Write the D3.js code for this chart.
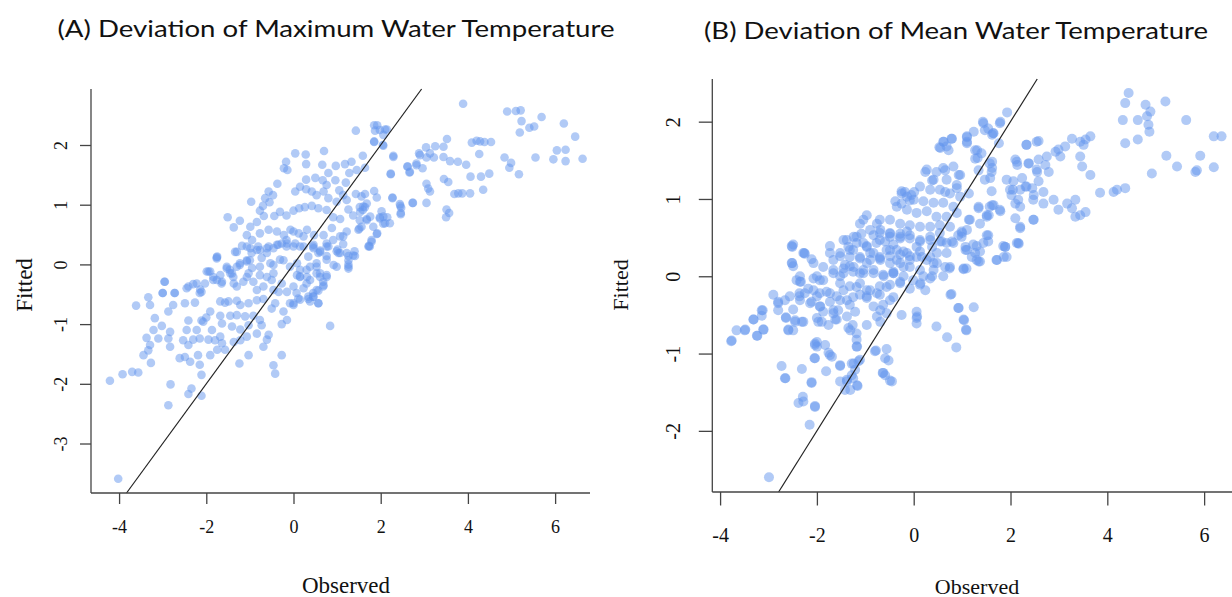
<!DOCTYPE html>
<html><head><meta charset="utf-8">
<script src="https://cdn.jsdelivr.net/npm/d3@7/dist/d3.min.js"></script>
<style>html,body{margin:0;padding:0;background:#fff;}svg{display:block;}</style>
</head><body>
<svg id="chart" width="1232" height="597"></svg>
<script>
// ---------- DATA ----------
const titleA = "(A) Deviation of Maximum Water Temperature";
const titleB = "(B) Deviation of Mean Water Temperature";
const xLabel = "Observed";
const yLabel = "Fitted";
const ticksAX = [-4, -2, 0, 2, 4, 6];
const ticksAY = [-3, -2, -1, 0, 1, 2];
const ticksBX = [-4, -2, 0, 2, 4, 6];
const ticksBY = [-2, -1, 0, 1, 2];

// Panel A: [observed, fitted]
const pointsA = [
[1.43,2.24],[1.85,2.33],[1.87,2.24],[1.98,2.25],[2.10,2.26],[1.85,2.06],[2.05,2.0],[2.29,1.82],[2.62,1.64],[2.66,1.54],[2.82,1.66],[2.88,1.86],[2.23,1.52],[0.04,1.86],[0.28,1.84],[0.70,1.90],[-0.17,1.72],[-0.22,1.61],[-0.14,1.58],[0.29,1.68],[0.66,1.67],[0.97,1.65],[1.18,1.68],[1.33,1.72],[1.59,1.82],[1.28,1.53],[1.45,1.58],[1.64,1.62],[0.80,1.53],[0.29,1.42],[0.50,1.45],[0.67,1.41],[0.76,1.33],[0.96,1.41],[1.20,1.37],[-0.37,1.35],[-0.57,1.22],[-0.47,1.16],[-0.65,1.11],[-0.55,1.04],[-0.70,0.98],[-0.97,1.05],[0.04,1.22],[0.15,1.30],[0.29,1.26],[0.42,1.22],[0.53,1.16],[0.69,1.22],[0.80,1.11],[1.05,1.24],[1.14,1.16],[0.99,1.05],[1.22,1.08],[1.43,1.18],[1.56,1.14],[1.64,1.18],[1.85,1.23],[1.91,1.12],[2.27,1.11],[2.45,0.98],[2.74,1.03],[1.52,0.96],[1.64,0.96],[1.59,0.91],[2.02,0.89],[2.15,0.79],[2.06,0.68],[2.21,0.69],[2.46,0.86],[-1.51,0.79],[-1.23,0.73],[-1.37,0.62],[-0.99,0.63],[-0.84,0.71],[-0.77,0.90],[-0.68,0.81],[-0.44,0.81],[-0.31,0.88],[-0.16,0.82],[0.00,0.90],[0.13,0.94],[0.26,0.96],[0.42,0.98],[0.57,0.94],[0.76,0.91],[0.91,0.79],[1.07,0.76],[1.26,0.92],[1.37,0.82],[1.52,0.74],[1.68,0.76],[1.83,0.63],[1.98,0.77],[-1.07,0.49],[-0.95,0.41],[-0.77,0.52],[-0.57,0.58],[-0.38,0.55],[-0.22,0.49],[-0.07,0.58],[0.12,0.52],[0.31,0.58],[0.47,0.49],[0.69,0.49],[0.88,0.61],[1.07,0.47],[1.22,0.55],[1.49,0.58],[1.56,0.63],[1.91,0.51],[1.79,0.38],[1.72,0.30],[-1.18,0.31],[-0.99,0.27],[-0.77,0.24],[-0.57,0.30],[-0.35,0.33],[-0.16,0.30],[0.04,0.35],[0.23,0.30],[0.46,0.27],[0.61,0.23],[0.80,0.30],[0.99,0.22],[1.22,0.19],[1.37,0.15],[1.14,0.34],[-1.75,0.13],[-1.53,-0.04],[-1.34,0.21],[-1.30,-0.04],[-1.07,0.05],[-0.95,-0.06],[-0.73,0.11],[-0.53,0.02],[-0.31,0.08],[-0.08,-0.04],[0.15,-0.09],[0.34,0.13],[0.53,0.02],[0.76,0.08],[0.99,-0.04],[1.26,-0.04],[0.53,-0.15],[-1.95,-0.12],[-1.68,-0.18],[-1.45,-0.15],[-1.07,-0.21],[-0.77,-0.18],[-0.46,-0.15],[0.08,-0.18],[0.31,-0.21],[0.76,-0.21],
[-4.21,-1.95],[-3.92,-1.84],[-3.70,-1.80],[-3.56,-1.81],[-3.27,-1.65],[-3.44,-1.52],[-3.33,-1.44],[-3.29,-1.35],[-3.37,-1.23],[-3.21,-1.10],[-3.10,-1.24],[-3.02,-1.03],[-2.83,-1.13],[-2.83,-1.38],[-2.87,-1.24],[-3.18,-0.90],[-3.61,-0.69],[-3.29,-0.68],[-3.33,-0.55],[-3.00,-0.48],[-2.72,-0.48],[-2.76,-0.68],[-2.87,-0.79],[-2.95,-0.29],[-2.82,-2.01],[-2.87,-2.36],[-2.41,-2.17],[-2.34,-2.08],[-2.11,-2.20],[-2.61,-1.57],[-2.37,-1.63],[-2.49,-1.55],[-2.15,-1.68],[-2.11,-1.85],[-2.19,-1.52],[-1.91,-1.52],[-1.75,-1.43],[-1.57,-1.43],[-1.64,-1.32],[-2.53,-1.27],[-2.41,-1.35],[-2.30,-1.26],[-2.15,-1.24],[-1.95,-1.26],[-1.80,-1.27],[-1.68,-1.21],[-2.45,-1.10],[-2.22,-1.10],[-2.07,-0.96],[-1.87,-1.10],[-1.64,-0.99],[-1.41,-1.04],[-1.37,-1.30],[-1.22,-1.27],[-1.07,-1.21],[-2.41,-0.94],[-2.11,-0.94],[-2.00,-0.89],[-1.68,-0.86],[-1.45,-0.86],[-1.30,-0.85],[-1.11,-0.87],[-0.92,-0.86],[-0.77,-0.93],[-1.22,-1.09],[-1.03,-1.02],[-0.84,-1.16],[-0.73,-1.02],[-0.61,-1.26],[-0.57,-1.18],[-0.69,-1.38],[-1.24,-1.66],[-1.03,-1.52],[-0.46,-1.69],[-0.42,-1.83],[-0.27,-1.52],[-0.27,-1.00],[-0.15,-0.93],[0.84,-1.03],[-2.49,-0.65],[-2.26,-0.64],[-2.15,-0.48],[-1.91,-0.79],[-1.68,-0.62],[-1.57,-0.64],[-1.49,-0.62],[-1.30,-0.61],[-1.22,-0.68],[-1.03,-0.65],[-0.84,-0.60],[-0.69,-0.58],[-0.50,-0.74],[-0.42,-0.65],[-0.23,-0.79],[-0.08,-0.65],[0.00,-0.68],[0.15,-0.59],[0.34,-0.58],[0.46,-0.54],[0.57,-0.65],[-2.41,-0.37],[-2.22,-0.32],[-2.11,-0.46],[-2.03,-0.32],[-1.91,-0.12],[-1.76,-0.26],[-1.76,0.12],[-1.84,-0.21],[-1.64,-0.29],[-1.53,-0.07],[-1.41,-0.15],[-1.37,-0.32],[-1.30,-0.37],[-1.15,-0.29],[-1.03,-0.15],[-0.92,-0.29],[-0.84,-0.43],[-0.69,-0.37],[-0.61,-0.21],[-0.50,-0.26],[-0.46,-0.43],[-0.34,-0.46],[-0.27,-0.32],[-0.15,-0.46],[0.00,-0.37],[0.15,-0.21],[0.23,-0.40],[0.38,-0.26],[0.53,-0.43],[0.69,-0.35],[0.76,-0.18],[0.92,-0.01],[1.03,0.19],[1.26,0.07],[1.41,0.14],[1.26,-0.07],[1.75,0.30],
[-1.30,0.21],[-1.07,0.30],[-0.84,0.24],[-0.61,0.27],[-0.38,0.33],[-0.15,0.35],[0.15,0.30],[0.46,0.33],[0.61,0.21],[0.76,0.35],[-0.23,0.07],[0.08,0.02],[0.30,-0.09],[0.53,-0.04],[-0.46,-0.01],[-0.77,-0.04],[-1.00,0.07],[-1.23,0.02],
[-4.02,-3.59],[-2.96,-0.29],[-3.0,-0.48],[-2.73,-0.48],[-2.45,-0.40],[-2.30,-0.33],[-2.14,-0.42],[-1.76,0.10],[-1.99,-0.12],[-1.84,-0.26],[-1.65,-0.32],[-1.46,-0.09],[-1.38,-0.21],[-1.23,-0.01],[-1.07,0.07],[-0.96,0.19],[-0.81,0.30],[-0.61,0.19],[-0.46,0.27],[-0.27,0.35],[-0.16,0.41],[0.00,0.30],
[0.0,-0.65],[0.11,-0.57],[0.34,-0.54],[0.45,-0.54],[0.57,-0.65],[0.38,-0.62],[0.57,-0.44],
[3.89,2.69],[4.90,2.56],[5.10,2.57],[5.21,2.58],[5.69,2.47],[5.23,2.40],[5.19,2.21],[5.41,2.29],[5.52,2.31],[6.20,2.36],[6.46,2.14],[6.04,1.91],[6.24,1.92],[5.96,1.76],[6.24,1.73],[6.63,1.77],[5.55,1.79],[4.84,1.79],[4.99,1.70],[4.95,1.62],[5.17,1.51],[4.09,2.04],[4.20,2.07],[4.28,2.06],[4.38,2.05],[4.53,2.05],[4.26,1.85],[3.52,2.10],[3.04,1.96],[3.25,1.98],[3.44,1.97],[3.13,1.86],[3.22,1.79],[2.90,1.83],[3.05,1.79],[2.82,1.69],[2.96,1.61],[2.61,1.64],[2.67,1.55],[3.44,1.80],[3.59,1.73],[3.77,1.72],[3.96,1.67],[4.06,1.47],[4.30,1.47],[4.49,1.52],[4.35,1.25],[3.45,1.43],[3.55,1.38],[3.05,1.35],[3.09,1.27],[3.13,1.22],[3.69,1.18],[3.78,1.19],[3.87,1.19],[4.05,1.19],[3.05,1.03],[3.51,0.92],[3.57,0.86],[3.50,0.79],[2.73,1.03],[2.23,1.51],[2.29,1.80],[2.27,1.12],[2.44,1.01],[2.47,0.95],[2.46,0.84],[1.92,2.33],[2.14,2.26],[2.06,2.17],[1.85,2.05],[2.06,1.99],[1.98,0.79],[2.10,0.69],[2.06,0.80],[1.76,0.80],[1.68,0.74],[1.92,0.52],[1.79,0.41],[1.73,0.31],[1.51,0.60],[1.53,0.88],[1.60,0.97],[1.68,1.02],[1.26,0.0],[1.26,0.14],[1.40,0.22],[1.01,0.25],[0.76,0.14],[0.68,-0.29],[0.61,-0.21],
[-0.0,0.55],[0.23,0.47],[0.45,0.30],[0.57,0.19],[0.38,-0.04],[0.15,-0.20],[0.30,-0.32],[0.61,-0.15],[0.76,0.30],[0.91,0.41],[1.14,0.47],[1.07,0.19],[0.68,-0.37],[0.07,-0.48],[0.45,-0.48]
];

// Panel B: [observed, fitted]
const pointsB = [
[-0.25,1.07],[-0.18,1.09],[-0.05,1.05],[0.01,1.09],[-0.38,0.97],[-0.25,0.94],[-0.08,0.98],[-0.97,0.79],[-1.11,0.68],[-0.76,0.68],[-1.08,0.55],[-1.45,0.47],[-1.35,0.38],[-1.18,0.51],[-1.25,0.34],[-1.73,0.30],[-1.66,0.21],[-1.52,0.26],[-1.42,0.15],[-1.66,0.04],[-1.52,0.0],[-2.51,0.38],[-2.26,0.30],[-2.11,0.22],[-2.51,0.17],[-2.49,0.13],[-2.42,-0.05],[-2.35,-0.07],[-2.07,-0.03],[-1.94,-0.05],[-2.07,-0.18],[-2.25,-0.22],[-1.94,-0.22],[-1.73,-0.22],[-2.90,-0.24],[-2.66,-0.31],[-0.69,0.60],[-0.49,0.55],[-0.59,0.45],[-0.42,0.41],[-0.28,0.55],[-0.14,0.58],[-0.97,0.38],[-0.83,0.30],[-0.69,0.21],[-0.49,0.26],[-0.35,0.21],[-0.21,0.32],[-0.08,0.26],[0.06,0.38],[-1.32,0.13],[-1.11,0.04],[-0.97,0.17],[-0.83,0.08],[-0.62,0.0],[-0.42,0.04],[-0.28,-0.09],[-0.01,-0.05],[-1.18,-0.14],[-0.97,-0.18],[-0.76,-0.22],[-0.56,-0.14],[-0.42,-0.27],[-1.25,-0.27],[-1.45,-0.18],
[-2.99,-2.60],[-2.15,-1.92],[-2.04,-1.69],[-2.38,-1.64],[-2.28,-1.62],[-2.29,-1.56],[-2.73,-1.16],[-2.65,-1.32],[-2.31,-1.20],[-2.11,-1.38],[-1.81,-1.23],[-1.52,-1.16],[-2.05,-1.06],[-2.04,-0.89],[-2.00,-0.85],[-1.83,-0.89],[-1.73,-1.02],[-1.69,-1.04],[-1.28,-1.13],[-1.21,-1.21],[-1.14,-1.10],[-1.38,-1.34],[-1.25,-1.32],[-1.16,-1.42],[-1.42,-1.47],[-0.78,-0.96],[-0.56,-0.94],[-0.59,-1.06],[-0.52,-1.09],[-0.64,-1.25],[-0.59,-1.28],[-0.49,-1.35],[-1.18,-0.74],[-1.18,-0.91],[-1.18,-0.82],[-3.76,-0.83],[-3.66,-0.70],[-3.48,-0.69],[-3.31,-0.56],[-3.14,-0.51],[-3.12,-0.44],[-3.23,-0.77],[-3.10,-0.69],
[-2.80,-0.35],[-2.80,-0.44],[-2.64,-0.54],[-2.59,-0.69],[-2.49,-0.70],[-2.45,-0.59],[-2.28,-0.59],[-2.56,-0.26],[-2.36,-0.26],[-2.14,-0.35],[-2.00,-0.26],[-1.93,-0.39],[-2.00,-0.54],[-1.90,-0.59],[-1.76,-0.63],[-1.62,-0.56],[-1.66,-0.44],[-1.56,-0.44],[-1.52,-0.31],[-1.32,-0.37],[-1.21,-0.46],[-1.35,-0.67],[-1.26,-0.63],[-1.11,-0.24],[-0.97,-0.26],[-0.69,-0.44],[-0.69,-0.59],[-0.49,-0.31],[-0.25,-0.50],[0.06,-0.46],[0.06,-0.61],
[4.44,2.37],[4.37,2.24],[4.79,2.22],[4.89,2.13],[4.82,2.07],[4.85,1.96],[4.87,1.87],[5.20,2.26],[5.63,2.02],[4.32,2.02],[4.63,2.02],[4.37,1.72],[4.63,1.77],[6.20,1.81],[6.36,1.81],[5.22,1.56],[5.44,1.42],[5.92,1.56],[5.85,1.37],[5.82,1.35],[6.20,1.41],[4.92,1.33],[3.85,1.08],[4.13,1.09],[4.20,1.12],[4.37,1.14],
[3.65,1.81],[3.55,1.77],[3.51,1.70],[3.44,1.74],[3.27,1.78],[3.13,1.68],[2.99,1.64],[2.93,1.61],[3.03,1.55],[2.75,1.55],[2.58,1.75],[2.33,1.70],[2.58,1.51],[2.72,1.44],[2.79,1.35],[2.55,1.35],[2.38,1.46],[2.10,1.51],[2.14,1.44],[3.44,1.55],[3.48,1.42],[3.65,1.31],
[3.34,0.99],[3.17,0.94],[2.99,0.86],[3.27,0.88],[3.34,0.77],[3.44,0.79],[3.55,0.83],[2.68,0.94],[2.89,0.99],[2.68,1.09],[2.48,1.05],[2.48,0.73],[2.20,0.62],[2.17,0.42],[1.89,0.38],[1.86,0.25],[1.72,0.21],[1.34,0.19],[1.27,0.30],[1.07,0.34],[1.03,0.09],[0.74,0.10],[0.78,-0.23],[1.65,0.92],[1.79,0.84],[1.55,0.79],
[2.05,1.12],[2.02,1.05],[2.24,1.27],[2.31,1.16],[2.45,1.14],[2.10,0.94],[2.20,0.90],[2.10,0.75],
[1.93,2.12],[1.79,2.00],[1.43,2.00],[1.47,1.89],[1.62,1.83],[1.65,1.85],[1.76,1.72],[1.62,1.48],[1.62,1.40],[1.58,1.27],[1.24,1.87],[1.10,1.81],[0.79,1.78],[0.62,1.74],[0.55,1.66],[0.72,1.63],[1.10,1.72],[1.31,1.63],[1.27,1.52],[1.34,1.37],[0.93,1.31],[0.65,1.37],[0.24,1.35],[0.38,1.24],[0.89,1.14],[0.65,1.09],[1.14,1.07],[1.34,0.90],[1.51,0.79],[1.62,0.92],[1.14,0.73],[1.00,0.56],[0.79,0.45],[0.58,0.45],[0.38,0.38],[0.17,0.25],[1.07,0.38],[0.65,0.12],[0.38,0.0],[0.14,-0.09],[0.24,-0.18],
[0.93,-0.41],[1.24,-0.40],[1.03,-0.56],[1.08,-0.69],[0.07,-0.52],[0.47,-0.65],[0.69,-0.79],[0.88,-0.92],
[1.44,1.98],[1.54,1.91],[1.64,1.85],[1.78,1.98],[1.27,1.63],[1.32,1.53],[1.40,1.59],[0.61,1.74],[0.68,1.68],[0.78,1.78],[0.53,1.67],[1.10,1.74],[1.10,1.80],
[2.33,1.70],[2.54,1.74],[2.13,1.48],[2.37,1.46],[2.54,1.38],[2.58,1.23],[2.06,1.23],[1.92,1.25],[1.99,1.12],[2.20,1.12],[2.33,1.16],[2.47,0.99],[2.16,0.99],[2.47,0.73],[2.20,0.64],[2.16,0.43],[1.85,0.39],[1.71,0.21],
[1.57,1.46],[1.61,1.35],[1.47,1.25],[1.61,1.10],[1.78,0.86],[1.51,0.77],[1.57,0.90],[1.34,0.88],[1.37,0.68],[1.16,0.73],[1.10,0.60],[0.99,0.51],[1.10,0.34],[1.20,0.25],[1.37,0.19],[1.30,0.39],[1.44,0.43],[1.54,0.53],[0.75,0.12],[1.03,0.10],[0.41,0.17],[0.48,0.30],[0.68,0.30],[0.82,0.43],[0.54,0.45],
[0.27,1.38],[0.47,1.35],[0.61,1.40],[0.82,1.42],[0.96,1.31],[0.41,1.25],[0.68,1.25],[0.89,1.18],[0.13,1.16],[0.34,1.12],[0.54,1.12],[0.75,1.07],[0.96,1.03],[-0.25,1.10],[-0.14,1.03],[0.00,0.99],[0.20,0.97],[0.41,0.95],[0.61,0.95],[0.82,0.90],[-0.35,0.90],[-0.14,0.86],[0.06,0.82],[0.27,0.84],[0.47,0.77],[0.68,0.77],[0.89,0.82],[-0.70,0.73],[-0.49,0.73],[-0.28,0.68],[-0.08,0.66],[0.13,0.64],[0.34,0.64],[0.54,0.66],[0.75,0.64],[-1.04,0.73],[-0.90,0.60],[-0.70,0.56],[-0.49,0.51],[-0.28,0.51],[-0.08,0.49],[0.13,0.45],[0.34,0.47],[-1.38,0.47],[-1.18,0.43],[-0.97,0.39],[-0.77,0.43],[-0.56,0.34],[-0.35,0.34],[-0.14,0.30],[0.06,0.25],[0.27,0.21],[-1.73,0.39],[-1.52,0.30],[-1.32,0.25],[-1.11,0.23],[-0.90,0.21],[-0.70,0.25],[-0.49,0.17],[-0.28,0.17],[-0.08,0.12],[0.13,0.08],[-2.07,0.17],[-1.87,0.12],[-1.66,0.08],[-1.45,0.10],[-1.25,0.06],[-1.04,0.08],[-0.83,0.04],[-0.63,0.02],[-0.42,0.04],[-0.21,-0.00],[-2.49,0.41],[-2.28,0.30],[-2.52,0.17],[-2.35,-0.00],[-2.00,-0.00],
[-3.49,-0.70],[-3.24,-0.77],[-3.11,-0.69],[-3.31,-0.56],[-3.14,-0.44],
[-2.80,-0.33],[-2.64,-0.53],[-2.49,-0.43],[-2.36,-0.22],[-2.35,-0.31],[-2.45,-0.57],[-2.31,-0.59],[-2.59,-0.70],
[-2.52,0.39],[-2.25,0.29],[-2.33,-0.07],[-2.18,-0.16],[-2.11,-0.33],[-1.94,-0.39],[-1.87,-0.46],[-1.97,-0.59],[-1.59,-0.56],[-1.66,-0.48],[-1.73,-0.33],
[-2.04,-0.87],[-2.00,-0.91],[-1.76,-0.99],[-2.04,-1.06],[-1.52,-1.15],[-1.24,-1.13],[-1.11,-1.08],[-1.17,-0.91],[-1.31,-0.70],[-1.38,-0.52],[-0.97,-0.63],[-0.76,-0.52],[-0.56,-0.48],[-0.63,-0.37],
[-2.66,-1.32],[-2.11,-1.37],[-1.52,-1.36],[-1.38,-1.36],[-1.28,-1.28],[-1.17,-1.41],[-1.31,-1.47],[-2.04,-1.68],[-0.63,-1.25],[-0.45,-1.36],[-0.80,-0.97],
[0.06,-0.54],[1.09,-0.70],[1.04,-0.57],[0.92,-0.41],[0.76,-0.24],
[-1.24,0.51],[-1.04,0.43],[-0.83,0.53],[-0.70,0.47],[-0.49,0.56],[-0.28,0.49],[-0.08,0.53],[0.13,0.47],[0.34,0.51],[0.54,0.56],[0.68,0.43],[-1.32,0.34],[-1.11,0.25],[-0.90,0.30],[-0.70,0.23],[-0.49,0.34],[-0.28,0.28],[-0.08,0.21],[0.13,0.32],[0.34,0.25],[0.48,0.17],[-1.45,0.04],[-1.24,0.12],[-1.04,0.04],[-0.42,0.06],[-0.21,0.12],[0.20,-0.00],[0.41,0.08],[-1.52,-0.09],[-1.32,-0.13],[-1.11,-0.09],[-0.90,-0.18],[-0.70,-0.13],[-0.49,-0.11],[-0.28,-0.07],[-0.08,-0.16],[0.13,-0.11],[0.34,-0.03],[0.61,-0.00],[-1.87,-0.05],[-1.80,-0.20],[-1.59,-0.26],[-1.38,-0.31],[-0.97,-0.28],[-0.83,-0.39],[-0.70,-0.24],
[0.92,0.53],[0.99,0.58],[1.23,0.41],[1.37,0.32],[1.54,0.45],[1.51,0.53],[1.30,0.21],[1.92,0.25],[1.89,0.38],[2.13,0.43],[1.09,0.10],
[-3.77,-0.84]
];

// ---------- DRAW ----------
const svg = d3.select("#chart");
svg.append("rect").attr("width",1232).attr("height",597).attr("fill","#fff");

const fmtTick = d => String(d); // plain hyphen-minus, as in the original

function drawPanel(cfg) {
  const x = d3.scaleLinear().domain(cfg.xDomain).range([cfg.left, cfg.right]);
  const y = d3.scaleLinear().domain(cfg.yDomain).range([cfg.bottom, cfg.top]);
  const g = svg.append("g");

  const clipId = "clip" + cfg.id;
  svg.append("clipPath").attr("id", clipId).append("rect")
    .attr("x", cfg.left).attr("y", cfg.top)
    .attr("width", cfg.right - cfg.left).attr("height", cfg.bottom - cfg.top);

  // points
  g.append("g").attr("clip-path", `url(#${clipId})`)
    .selectAll("circle").data(cfg.points).join("circle")
    .attr("cx", d => x(d[0])).attr("cy", d => y(d[1]))
    .attr("r", cfg.r)
    .attr("fill", "#6495ED").attr("fill-opacity", 0.5);

  // 1:1 line
  const lo = Math.max(cfg.xDomain[0], cfg.yDomain[0]);
  const hi = Math.min(cfg.xDomain[1], cfg.yDomain[1]);
  g.append("line")
    .attr("x1", x(lo)).attr("y1", y(lo)).attr("x2", x(hi)).attr("y2", y(hi))
    .attr("stroke", "#222").attr("stroke-width", 1.2);

  // axes (L-shaped box)
  const xAxis = d3.axisBottom(x).tickValues(cfg.xTicks).tickSize(cfg.tick).tickPadding(cfg.xPad).tickFormat(fmtTick);
  const gx = g.append("g").attr("transform", `translate(0,${cfg.bottom})`).call(xAxis);
  gx.select(".domain").attr("d", `M${cfg.left},0H${cfg.right}`);
  const yAxis = d3.axisLeft(y).tickValues(cfg.yTicks).tickSize(cfg.tick).tickFormat(fmtTick);
  const gy = g.append("g").attr("transform", `translate(${cfg.left},0)`).call(yAxis);
  gy.select(".domain").attr("d", `M0,${cfg.top}V${cfg.bottom}`);
  [gx, gy].forEach(a => {
    a.selectAll(".domain").attr("stroke", "#444").attr("stroke-width", 1.3);
    a.selectAll(".tick line").attr("stroke", "#444").attr("stroke-width", 1.3);
    a.selectAll("text").attr("font-family", "Liberation Serif, Times New Roman, serif")
      .attr("font-size", cfg.tickFont).attr("fill", "#111");
  });
  gx.selectAll(".tick text").attr("dy", null).attr("y", cfg.xPad + cfg.tick)
    .attr("dominant-baseline", "central");
  gy.selectAll(".tick text").attr("x", null).attr("dy", null)
    .attr("text-anchor", "middle").attr("dominant-baseline", "central")
    .attr("transform", `translate(${-cfg.yPad},0) rotate(-90)`);

  // labels
  svg.append("text").text(xLabel)
    .attr("x", cfg.xLabelX).attr("y", cfg.xLabelY)
    .attr("text-anchor", "middle").attr("dominant-baseline", "central")
    .attr("font-family", "Liberation Serif, Times New Roman, serif")
    .attr("font-size", cfg.labelFont).attr("fill", "#111");
  svg.append("text").text(yLabel)
    .attr("transform", `translate(${cfg.yLabelX},${cfg.yLabelY}) rotate(-90)`)
    .attr("text-anchor", "middle").attr("dominant-baseline", "central")
    .attr("font-family", "Liberation Serif, Times New Roman, serif")
    .attr("font-size", cfg.labelFont).attr("fill", "#111");

  // title
  svg.append("text").text(cfg.title)
    .attr("x", cfg.titleX).attr("y", cfg.titleY)
    .attr("text-anchor", "middle")
    .attr("font-family", "Lato, Open Sans, sans-serif")
    .attr("font-size", 24).attr("fill", "#111")
    .attr("textLength", cfg.titleW).attr("lengthAdjust", "spacingAndGlyphs");
}

drawPanel({
  id: "A", points: pointsA, title: titleA,
  left: 91, right: 590, top: 89, bottom: 493,
  xDomain: [-4.644, 6.8], yDomain: [-3.829, 2.938],
  xTicks: ticksAX, yTicks: ticksAY, r: 4.3,
  tick: 11, xPad: 23, yPad: 30, tickFont: 18,
  xLabelX: 346, xLabelY: 585, yLabelX: 24, yLabelY: 285, labelFont: 23,
  titleX: 336, titleY: 37, titleW: 557
});
drawPanel({
  id: "B", points: pointsB, title: titleB,
  left: 712.3, right: 1232, top: 79, bottom: 492,
  xDomain: [-4.161, 6.576], yDomain: [-2.791, 2.552],
  xTicks: ticksBX, yTicks: ticksBY, r: 5,
  tick: 13.5, xPad: 29.5, yPad: 39, tickFont: 20,
  xLabelX: 977, xLabelY: 586, yLabelX: 620, yLabelY: 285, labelFont: 22,
  titleX: 956, titleY: 39, titleW: 504
});
</script>
</body></html>
